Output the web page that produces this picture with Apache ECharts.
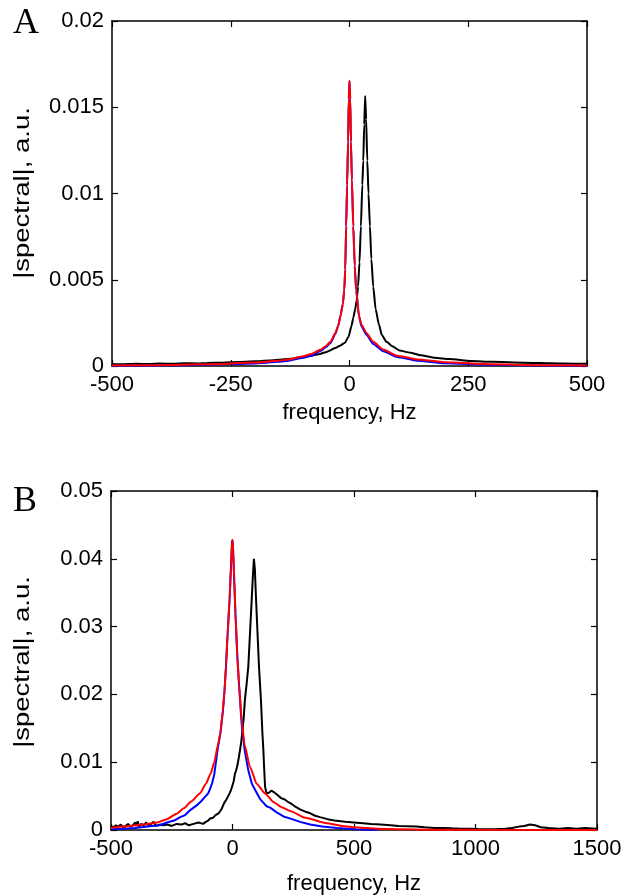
<!DOCTYPE html>
<html>
<head>
<meta charset="utf-8">
<script src="https://cdn.jsdelivr.net/npm/echarts@6/dist/echarts.min.js"></script>
<style>
  html, body { margin: 0; padding: 0; background: #fff; }
  #chart { width: 633px; height: 896px; }
</style>
</head>
<body>
<div id="chart"></div>
<script>
// panel A: spectra, -500..500 Hz
var freqRedA = [-500, -400, -300, -200, -150, -128, -100, -80, -60, -50, -40, -30, -24, -19, -14, -11, -9, -7, -5, -3, -1.5, 0,
    1.5, 3, 5, 8, 11, 14, 20, 25, 36, 50, 71, 100, 143, 200, 300, 400, 500];
var valRedA = [0.00003, 0.00005, 0.0001, 0.0002, 0.0003, 0.00038, 0.00055, 0.0007, 0.00096, 0.00115, 0.0014, 0.0019, 0.0023, 0.0029, 0.0036, 0.0044, 0.0056, 0.0081, 0.0105, 0.013, 0.0155, 0.01654,
    0.0155, 0.013, 0.0108, 0.0081, 0.0058, 0.0044, 0.0029, 0.0024, 0.0019, 0.0014, 0.00096, 0.0006, 0.00038, 0.00022, 0.0001, 0.00005, 0.00003];
var freqBlueA = freqRedA;
var valBlueA = [0.00002, 0.00003, 0.00007, 0.00015, 0.00024, 0.00031, 0.00046, 0.0006, 0.00088, 0.00108, 0.00134, 0.00185, 0.0023, 0.0029, 0.0036, 0.0044, 0.0056, 0.0081, 0.0105, 0.013, 0.0155, 0.01652,
    0.0155, 0.013, 0.0108, 0.0081, 0.0058, 0.0044, 0.0029, 0.0023, 0.0018, 0.00128, 0.00085, 0.00052, 0.00031, 0.00016, 0.00006, 0.00003, 0.00002];
var freqBlackA = [-500, -480, -450, -420, -400, -370, -350, -320, -300, -270, -250, -220, -200, -170, -150, -125, -100, -83, -65, -50, -41, -30, -20, -9.5, -2,
    4, 8, 12, 15, 18, 21, 24, 27, 29, 31, 33, 35, 37.5, 40, 43, 46, 50, 55, 62, 68, 78, 90, 105, 128, 150, 180, 210, 256, 300, 368, 400, 450, 500];
var valBlackA = [0.00012, 0.0001, 0.00013, 0.00011, 0.00014, 0.00013, 0.00016, 0.00015, 0.00018, 0.00019, 0.00022, 0.00025, 0.00027, 0.00032, 0.00036, 0.00042, 0.00052, 0.00058, 0.00068, 0.0008, 0.0009, 0.00105, 0.00118, 0.00135, 0.0017,
    0.0023, 0.0028, 0.0033, 0.0038, 0.0046, 0.006, 0.0081, 0.0105, 0.0119, 0.014, 0.01565, 0.0143, 0.0119, 0.01, 0.0081, 0.0062, 0.0046, 0.0033, 0.0024, 0.0018, 0.0014, 0.00115, 0.0009, 0.00077, 0.00062, 0.00048, 0.0004, 0.00029, 0.00024, 0.00019, 0.00017, 0.00014, 0.00013];

// panel B: spectra, -500..1500 Hz
var freqRedB = [-500, -450, -400, -350, -312, -270, -230, -200, -170, -134, -110, -90, -75, -60, -50, -40, -33, -27, -20, -12, -6, -2, 0,
    3, 7, 12, 20, 27, 38, 50, 72, 100, 134, 170, 200, 237, 300, 388, 450, 500, 600, 700, 800, 1000, 1500];
var valRedB = [0.0003, 0.0005, 0.0007, 0.0009, 0.0011, 0.0016, 0.0024, 0.0032, 0.0042, 0.0054, 0.0068, 0.0083, 0.01, 0.0125, 0.0143, 0.0175, 0.0205, 0.0241, 0.029, 0.034, 0.039, 0.0425, 0.0428,
    0.041, 0.037, 0.032, 0.0255, 0.0215, 0.016, 0.0125, 0.0093, 0.0068, 0.0054, 0.0041, 0.0034, 0.0028, 0.0018, 0.001, 0.0006, 0.0004, 0.0002, 0.0001, 0.00005, 0.00002, 0.00001];
var freqBlueB = [-500, -450, -400, -350, -300, -270, -240, -215, -195, -175, -160, -145, -130, -115, -100, -92, -84, -75, -60, -50, -40, -33, -27, -20, -12, -6, -2, 0,
    3, 7, 12, 20, 27, 38, 50, 65, 80, 95, 113, 125, 140, 155, 182, 210, 245, 278, 320, 370, 430, 500, 600];
var valBlueB = [0.0001, 0.0002, 0.0003, 0.0005, 0.0007, 0.0011, 0.0014, 0.0019, 0.0022, 0.0029, 0.0033, 0.0037, 0.0042, 0.0048, 0.0054, 0.0061, 0.0069, 0.0082, 0.0122, 0.0142, 0.0174, 0.0204, 0.024, 0.029, 0.034, 0.039, 0.0424, 0.0427,
    0.041, 0.037, 0.032, 0.0255, 0.0213, 0.0155, 0.0118, 0.0088, 0.0068, 0.0058, 0.0046, 0.0041, 0.0035, 0.0033, 0.0026, 0.002, 0.0016, 0.0012, 0.0008, 0.0005, 0.0003, 0.0001, 0.00005];
var freqBlackB = [-500, -490, -480, -470, -460, -450, -440, -430, -420, -410, -400, -395, -390, -385, -375, -365, -355, -345, -335, -325, -315, -300, -285, -268, -250, -230, -210, -195, -180, -160, -140, -121, -110, -100, -92, -80, -70, -56, -45, -34, -25, -12, -5,
    0, 5, 10, 15, 20, 26, 31, 36, 40, 46, 51, 58, 65, 72, 79, 84, 88, 92, 97, 103, 109, 117, 123, 127, 130, 134, 140, 150, 160, 170, 180, 190, 200, 215, 230, 245, 260, 280, 300, 318, 340, 360, 391, 420, 464, 500,
    537, 570, 610, 650, 684, 720, 757, 790, 830, 870, 903, 940, 977, 1010, 1050, 1080, 1123, 1150, 1180, 1200, 1225, 1245, 1269, 1300, 1343, 1380, 1416, 1450, 1496, 1500];
var valBlackB = [0.0006, 0.0004, 0.0007, 0.0005, 0.0008, 0.0004, 0.0006, 0.0009, 0.0005, 0.0007, 0.0011, 0.0006, 0.0013, 0.0005, 0.0009, 0.0007, 0.0011, 0.0006, 0.0009, 0.0012, 0.0006, 0.0008, 0.0007, 0.0008, 0.0006, 0.0009, 0.0008, 0.001, 0.0007, 0.0009, 0.0011, 0.0009, 0.0012, 0.0014, 0.0017, 0.0018, 0.0022, 0.0025, 0.0031, 0.004, 0.0045, 0.0054, 0.006,
    0.0066, 0.0072, 0.0083, 0.0088, 0.0095, 0.0107, 0.0118, 0.013, 0.0143, 0.0165, 0.0192, 0.0215, 0.0241, 0.029, 0.034, 0.0375, 0.04, 0.0385, 0.034, 0.029, 0.0241, 0.0192, 0.0143, 0.0118, 0.0093, 0.0064, 0.0054, 0.0055, 0.0058, 0.0056, 0.0053, 0.005, 0.0047, 0.0045, 0.0041, 0.0038, 0.0034, 0.003, 0.0027, 0.0025, 0.0021, 0.0019, 0.0016, 0.0014, 0.0012, 0.0011,
    0.001, 0.0009, 0.0008, 0.0007, 0.0006, 0.00055, 0.0005, 0.0004, 0.0003, 0.0003, 0.00025, 0.0002, 0.0002, 0.00015, 0.0001, 0.00012, 0.0002, 0.0003, 0.0005, 0.0006, 0.0008, 0.0007, 0.0004, 0.0003, 0.0002, 0.0003, 0.0002, 0.0003, 0.0002, 0.0002];

var LABEL_FONT = 'Liberation Sans, Arial, sans-serif';
var Y_TITLE = '|spectral|, a.u.';

function zip(xs, ys) {
    var out = [];
    for (var i = 0; i < xs.length; ++i) {
        out.push([xs[i], ys[i]]);
    }
    return out;
}

function fmt(v) {
    return String(parseFloat(v.toFixed(4)));
}

function boxAxis(grid, pos, min, max, interval, showLabel, name, nameGap) {
    return {
        type: 'value',
        gridIndex: grid,
        position: pos,
        min: min,
        max: max,
        interval: interval,
        name: name || '',
        nameLocation: 'middle',
        nameGap: nameGap || 0,
        nameTextStyle: { color: '#000', fontSize: 22, fontFamily: LABEL_FONT },
        axisLine: { show: true, onZero: false, lineStyle: { color: '#000', width: 1.5 } },
        axisTick: { show: true, inside: true, length: 6, lineStyle: { color: '#000', width: 1.2 } },
        axisLabel: { show: showLabel, color: '#000', fontSize: 22, fontFamily: LABEL_FONT, margin: 8, formatter: fmt },
        splitLine: { show: false }
    };
}

function line(name, data, color, xi, yi, smooth) {
    return {
        name: name,
        type: 'line',
        xAxisIndex: xi,
        yAxisIndex: yi,
        data: data,
        showSymbol: false,
        smooth: smooth,
        smoothMonotone: 'x',
        clip: true,
        lineStyle: { color: color, width: 2 },
        itemStyle: { color: color }
    };
}

// rotated y title, stretched along its length like the source figure
function yTitle(cx, cy) {
    return {
        type: 'text', x: cx, y: cy, rotation: Math.PI / 2, scaleX: 1.25,
        style: { text: Y_TITLE, font: '22px ' + LABEL_FONT, fill: '#000', align: 'center', verticalAlign: 'middle' }
    };
}

var chart = echarts.init(document.getElementById('chart'));
chart.setOption({
    animation: false,
    backgroundColor: '#fff',
    grid: [
        { left: 112, top: 21, width: 475, height: 345 },
        { left: 111, top: 491, width: 486, height: 339 }
    ],
    xAxis: [
        boxAxis(0, 'bottom', -500, 500, 250, true, 'frequency, Hz', 36),
        boxAxis(0, 'top', -500, 500, 250, false),
        boxAxis(1, 'bottom', -500, 1500, 500, true, 'frequency, Hz', 43),
        boxAxis(1, 'top', -500, 1500, 500, false)
    ],
    yAxis: [
        boxAxis(0, 'left', 0, 0.02, 0.005, true),
        boxAxis(0, 'right', 0, 0.02, 0.005, false),
        boxAxis(1, 'left', 0, 0.05, 0.01, true),
        boxAxis(1, 'right', 0, 0.05, 0.01, false)
    ],
    graphic: [
        { type: 'text', left: 13, top: 6, style: { text: 'A', font: '36px "Liberation Serif", serif', fill: '#000' } },
        { type: 'text', left: 13, top: 484, style: { text: 'B', font: '36px "Liberation Serif", serif', fill: '#000' } },
        yTitle(23, 193),
        yTitle(23, 662)
    ],
    series: [
        line('measuredA', zip(freqBlackA, valBlackA), '#000000', 0, 0, 0.2),
        line('simA', zip(freqBlueA, valBlueA), '#0000ff', 0, 0, 0.2),
        line('fitA', zip(freqRedA, valRedA), '#ff0000', 0, 0, 0.2),
        line('measuredB', zip(freqBlackB, valBlackB), '#000000', 2, 2, false),
        line('simB', zip(freqBlueB, valBlueB), '#0000ff', 2, 2, false),
        line('fitB', zip(freqRedB, valRedB), '#ff0000', 2, 2, 0.2)
    ]
});
</script>
</body>
</html>
